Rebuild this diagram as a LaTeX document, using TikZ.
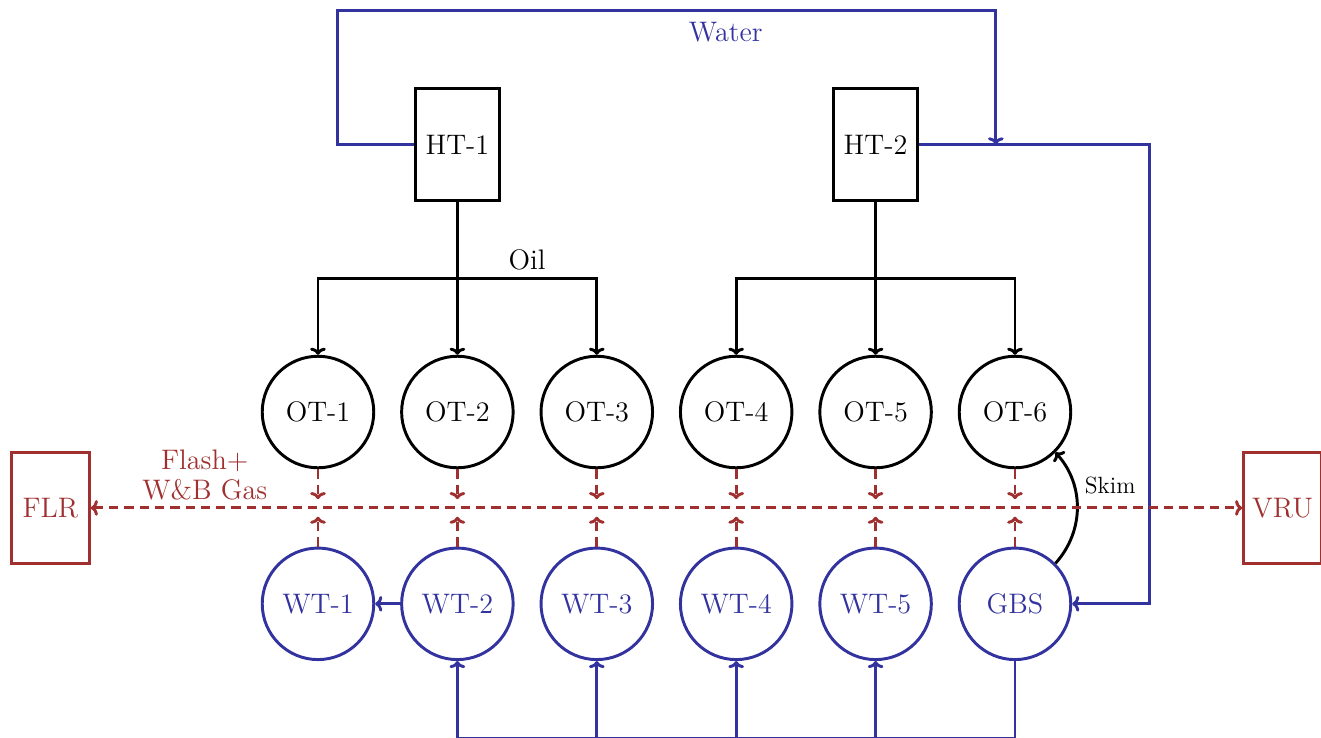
\documentclass[tikz,border=0pt]{standalone}
\usepackage{tikz}
\usetikzlibrary{positioning, arrows.meta, calc}
\definecolor{waterblue}{RGB}{51,51,160}
\definecolor{gasred}{RGB}{160,48,48}
\tikzset{%
  node distance=2.5cm, % spacing between the tank centres
  every node/.style={font=\Large},
  tank/.style={draw, rectangle, line width=1.5pt, minimum width=1.5cm, minimum height=2cm},
  oiltank/.style={draw, circle, line width=1.5pt, minimum size=2cm},
  watertank/.style={oiltank, draw=waterblue, text=waterblue},
  gasbox/.style={draw=gasred, text=gasred, rectangle, line width=1.5pt, minimum width=1.4cm, minimum height=2cm},
  oilflow/.style={draw, line width=1.5pt, ->, >={To[length=3.6pt, width=8pt]}},
  waterflow/.style={oilflow, draw=waterblue},
  gasflow/.style={draw=gasred, line width=1.5pt, dash pattern=on 4.8pt off 3pt, ->, >={To[length=3.6pt, width=8pt]}}
}

\begin{document}
\begin{tikzpicture}
    \useasboundingbox (-5.703,-5.846) rectangle (17.988,7.389);
    % oil tanks
    \node[oiltank] (ot1) {OT-1};
    \node[oiltank, right of=ot1] (ot2) {OT-2};
    \node[oiltank, right of=ot2] (ot3) {OT-3};
    \node[oiltank, right of=ot3] (ot4) {OT-4};
    \node[oiltank, right of=ot4] (ot5) {OT-5};
    \node[oiltank, right of=ot5] (ot6) {OT-6};
    % water tanks
    \node[watertank, below of=ot1, node distance=3.44cm] (wt1) {WT-1};
    \node[watertank, right of=wt1] (wt2) {WT-2};
    \node[watertank, right of=wt2] (wt3) {WT-3};
    \node[watertank, right of=wt3] (wt4) {WT-4};
    \node[watertank, right of=wt4] (wt5) {WT-5};
    \node[watertank, right of=wt5] (gbs) {GBS};
    % heater treaters
    \node[tank, above of=ot2, node distance=4.8cm] (ht1) {HT-1};
    \node[tank, above of=ot5, node distance=4.8cm] (ht2) {HT-2};
    % flare and vapour recovery
    \coordinate (gasmid) at ($(ot1)!0.5!(wt1)$);
    \coordinate (gasend) at ($(ot6)!0.5!(gbs)$);
    \node[gasbox, left of=gasmid, node distance=4.8cm] (flr) {FLR};
    \node[gasbox, right of=gasend, node distance=4.8cm] (vru) {VRU};

    % oil
    \coordinate (oil1) at ($(ht1.south)!0.5!(ot2.north)$);
    \coordinate (oil2) at ($(ht2.south)!0.5!(ot5.north)$);
    \draw[oilflow] (ht1.south) -- (ot2.north);
    \draw[oilflow] (oil1) -| (ot1.north);
    \draw[oilflow] (oil1) -| node[above, pos=0.25] (oil) {Oil} (ot3.north);
    \draw[oilflow] (ht2.south) -- (ot5.north);
    \draw[oilflow] (oil2) -| (ot4.north);
    \draw[oilflow] (oil2) -| (ot6.north);

    % water
    \coordinate (wtop) at ($(ht1.north)+(0,1.38)$);
    \coordinate (wjoin) at ($(ht2.east)+(1.38,0)$);
    \coordinate (wbot) at ($(gbs.south)+(0,-1.38)$);
    \draw[waterflow] (ht1.west) -- ++(-1.38,0) |- node[below, pos=0.795, yshift=-2pt, text=waterblue] (water) {Water} (wjoin |- wtop) -- (wjoin);
    \draw[waterflow] (ht2.east) -| ($(gbs.east)+(1.38,0)$) -- (gbs.east);
    \draw[waterflow] (gbs.south) -- (wbot) -| (wt2.south);
    \draw[waterflow] (wbot -| wt3) -- (wt3.south);
    \draw[waterflow] (wbot -| wt4) -- (wt4.south);
    \draw[waterflow] (wbot -| wt5) -- (wt5.south);
    \draw[waterflow] (wt2) -- (wt1);
    \draw[oilflow] (gbs.45) to[bend right=42] node[above right, pos=0.55, font=\large] (skim) {Skim} (ot6.-45);

    % gas
    \draw[gasflow, <->] (flr) -- node[above, pos=0.099, align=center, text=gasred] (flash) {Flash+\\[-2.7pt]W\&B Gas} (vru);
    \draw[gasflow, shorten >=4.5pt] (ot1) -- (ot1 |- gasmid);
    \draw[gasflow, shorten >=4.5pt] (ot2) -- (ot2 |- gasmid);
    \draw[gasflow, shorten >=4.5pt] (ot3) -- (ot3 |- gasmid);
    \draw[gasflow, shorten >=4.5pt] (ot4) -- (ot4 |- gasmid);
    \draw[gasflow, shorten >=4.5pt] (ot5) -- (ot5 |- gasmid);
    \draw[gasflow, shorten >=4.5pt] (ot6) -- (ot6 |- gasmid);
    \draw[gasflow, shorten >=4.5pt] (wt1) -- (wt1 |- gasmid);
    \draw[gasflow, shorten >=4.5pt] (wt2) -- (wt2 |- gasmid);
    \draw[gasflow, shorten >=4.5pt] (wt3) -- (wt3 |- gasmid);
    \draw[gasflow, shorten >=4.5pt] (wt4) -- (wt4 |- gasmid);
    \draw[gasflow, shorten >=4.5pt] (wt5) -- (wt5 |- gasmid);
    \draw[gasflow, shorten >=4.5pt] (gbs) -- (gbs |- gasmid);
\end{tikzpicture}
\end{document}
